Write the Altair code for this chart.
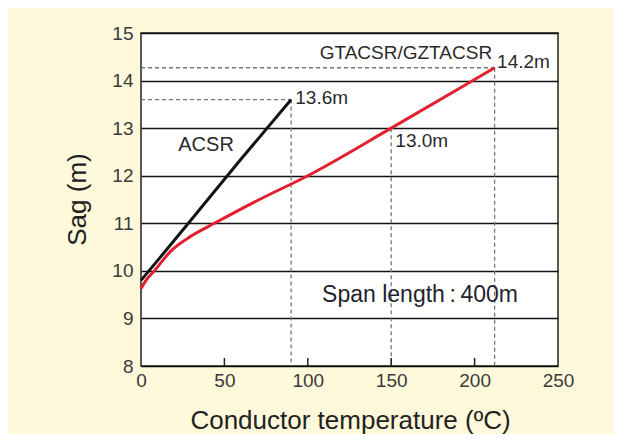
import altair as alt
import pandas as pd

# ACSR sag curve
acsr_t = [0, 10, 30, 60, 90]
acsr_s = [9.8, 10.22, 11.07, 12.35, 13.6]
# GTACSR/GZTACSR sag curve
gt_t = [0, 3, 8, 18, 30, 44, 71, 100, 150, 199, 212]
gt_s = [9.63, 9.8, 10.0, 10.42, 10.73, 11.0, 11.5, 12.0, 13.0, 14.0, 14.27]

# reference markers (end points)
mark_t = [90, 150, 212]
mark_s = [13.6, 13.0, 14.27]
hmark_t = [90, 212]
hmark_s = [13.6, 14.27]

# labels
lab_text = ["13.6m", "13.0m", "14.2m"]
lab_t = [92.5, 152.5, 213.5]
lab_s = [13.64, 12.72, 14.38]

x_ticks = [0, 50, 100, 150, 200, 250]
y_ticks = [8, 9, 10, 11, 12, 13, 14, 15]
inner_ticks = [50, 100, 150, 200]

FONT = "Liberation Sans"
xs = alt.Scale(domain=[0, 250], nice=False, zero=False)
ys = alt.Scale(domain=[8, 15], nice=False, zero=False)

lines_df = pd.DataFrame(
    {"t": acsr_t + gt_t, "s": acsr_s + gt_s,
     "c": ["ACSR"] * len(acsr_t) + ["GT"] * len(gt_t)}
)
vdf = pd.DataFrame({"t": mark_t, "s": mark_s, "b": [8] * len(mark_t)})
hdf = pd.DataFrame({"t": hmark_t, "s": hmark_s, "z": [0] * len(hmark_t)})
labdf = pd.DataFrame({"t": lab_t, "s": lab_s, "txt": lab_text})
tdf = pd.DataFrame({"t": inner_ticks})

base_x = alt.X("t:Q", scale=xs, axis=alt.Axis(
    values=x_ticks, grid=False, domain=False, ticks=False, labelPadding=5,
    labelFlush=False,
    title="Conductor temperature (ºC)", titleX=209, titleY=54,
    titleBaseline="middle", titleAnchor="middle"))
base_y = alt.Y("s:Q", scale=ys, axis=alt.Axis(
    values=y_ticks, grid=True, gridColor="#111111", gridWidth=1.5,
    domain=False, ticks=False, labelPadding=8, labelFlush=False, title="Sag (m)",
    titleX=-64, titleY=166, titleAlign="center", titleBaseline="middle"))

vlines = alt.Chart(vdf).mark_rule(color="#777777", strokeDash=[4, 3], strokeWidth=1.3).encode(
    x=base_x, y=base_y, y2="b:Q")
hlines = alt.Chart(hdf).mark_rule(color="#777777", strokeDash=[4, 3], strokeWidth=1.3).encode(
    x="z:Q", x2="t:Q", y="s:Q")

curves = alt.Chart(lines_df).mark_line(strokeWidth=3, interpolate="monotone").encode(
    x="t:Q", y="s:Q",
    color=alt.Color("c:N", scale=alt.Scale(domain=["ACSR", "GT"], range=["#141414", "#E2202F"]), legend=None),
)

ticks = alt.Chart(tdf).mark_rule(color="#222222", strokeWidth=1.5).encode(
    x="t:Q", y=alt.value(333), y2=alt.value(325))

labels = alt.Chart(labdf).mark_text(align="left", baseline="middle", font=FONT, fontSize=19,
                                    color="#2a2a2a").encode(x="t:Q", y="s:Q", text="txt:N")

acsr_lab = alt.Chart(pd.DataFrame({"t": [39], "s": [12.65], "txt": ["ACSR"]})).mark_text(
    align="center", baseline="middle", font=FONT, fontSize=20, color="#2a2a2a").encode(
    x="t:Q", y="s:Q", text="txt:N")
gt_lab = alt.Chart(pd.DataFrame({"t": [210.5], "s": [14.59], "txt": ["GTACSR/GZTACSR"]})).mark_text(
    align="right", baseline="middle", font=FONT, fontSize=19, color="#2a2a2a").encode(
    x="t:Q", y="s:Q", text="txt:N")
span_lab = alt.Chart(pd.DataFrame({"t": [167.3], "s": [9.5], "txt": ["Span length\u2009:\u2009400m"]})).mark_text(
    align="center", baseline="middle", font=FONT, fontSize=23, color="#23232e").encode(
    x="t:Q", y="s:Q", text="txt:N")

chart = alt.layer(vlines, hlines, curves, ticks, labels, acsr_lab, gt_lab, span_lab).properties(
    width=417, height=333,
    autosize=alt.AutoSizeParams(type="none"),
    padding={"left": 133, "top": 25, "right": 55, "bottom": 68},
    background="#FEF9DA",
).configure_view(
    fill="white", stroke="#222222", strokeWidth=1.5
).configure_axis(
    labelFont=FONT, labelFontSize=19, labelColor="#3a3a3a",
    titleFont=FONT, titleFontSize=26, titleFontWeight="normal", titleColor="#222222",
)

chart.save("out.html", embed_options={"renderer": "svg", "actions": False})
